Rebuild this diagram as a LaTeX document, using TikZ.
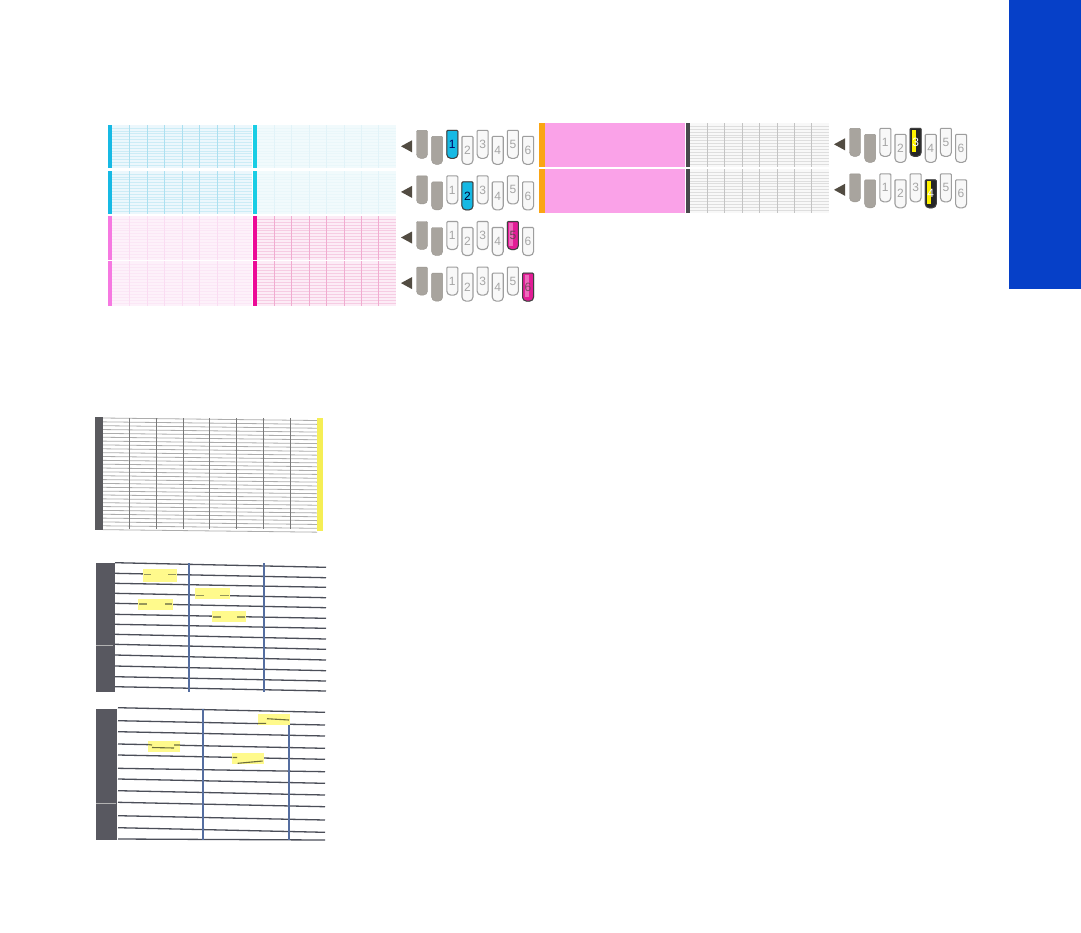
\documentclass[tikz,border=0pt]{standalone}
\usepackage{fontspec}
\setmainfont{Liberation Sans}
\definecolor{sidetab}{RGB}{6,64,200}
\definecolor{tipgray}{RGB}{82,76,66}
\definecolor{headgray}{RGB}{168,164,158}
\definecolor{headedge}{RGB}{158,158,158}
\definecolor{headpale}{RGB}{248,248,248}
\definecolor{numgray}{RGB}{165,165,165}
\definecolor{inkc}{RGB}{22,185,228}
\definecolor{inkcpale}{RGB}{25,205,228}
\definecolor{inkm}{RGB}{226,28,150}
\definecolor{inkmlight}{RGB}{246,120,225}
\definecolor{inkmbar}{RGB}{236,10,150}
\definecolor{inky}{RGB}{245,238,85}
\definecolor{inko}{RGB}{250,165,20}
\definecolor{inkk}{RGB}{72,72,76}
\definecolor{pinkfill}{RGB}{250,162,232}
\definecolor{cbg}{RGB}{236,247,252}
\definecolor{cline}{RGB}{172,224,240}
\definecolor{cbgpale}{RGB}{241,250,252}
\definecolor{clinepale}{RGB}{226,243,248}
\definecolor{mbg}{RGB}{253,241,250}
\definecolor{mline}{RGB}{250,220,242}
\definecolor{mbgdeep}{RGB}{252,236,246}
\definecolor{mlinedeep}{RGB}{240,172,208}
\definecolor{kbg}{RGB}{248,248,248}
\definecolor{kline}{RGB}{196,196,196}
\definecolor{barmid}{RGB}{88,88,96}
\definecolor{hiline}{RGB}{255,250,140}
\definecolor{hidash}{RGB}{150,150,90}
\definecolor{hidark}{RGB}{110,110,60}
\definecolor{rowline}{RGB}{75,78,88}
\definecolor{colline}{RGB}{85,110,160}
\definecolor{fineh}{RGB}{172,172,172}
\definecolor{finev}{RGB}{120,120,120}

% one printhead drawn from its top centre
\newcommand{\nozzle}[3]{%
  \path[#3] ({#1-5.5},#2) [rounded corners=1pt] -- ({#1+5.5},#2)
    [rounded corners=4pt] -- ({#1+5.5},{#2+28}) -- ({#1-5.5},{#2+28})
    [rounded corners=1pt] -- cycle;
}
% arrow tip and eight heads of one row
\newcommand{\nozzlerow}[3]{%
  \fill[tipgray] ({#2-21},{#3+16}) coordinate (tip#1) -- ({#2-10},{#3+10}) -- ({#2-10},{#3+22}) -- cycle;
  \foreach \i in {0,...,7}{
    \pgfmathsetmacro\nx{#2+15.15*\i}
    \pgfmathsetmacro\ny{#3+6*mod(\i,2)}
    \pgfmathtruncatemacro\num{\i-1}
    \ifnum\i<2
      \nozzle{\nx}{\ny}{headoff}
    \else
      \nozzle{\nx}{\ny}{headidle}
      \node[numlab] (n#1-\num) at (\nx,\ny+14) {\num};
    \fi
  }
}
% the head in use: x of first head, y, number, fill, stripe, text
\newcommand{\nozzleon}[6]{%
  \pgfmathsetmacro\nx{#1+15.15*(#3+1)}
  \pgfmathsetmacro\ny{#2+6*mod(#3+1,2)}
  \nozzle{\nx}{\ny}{fill=#4,draw=black!75,line width=1pt}
  \fill[#5] (\nx-3.5,\ny+1.5) rectangle (\nx+0.5,\ny+24);
  \node[numlab,text=#6] (on#3) at (\nx,\ny+14) {#3};
}
% a sheared test block with eight columns
\newcommand{\testblock}[6]{%
  \fill[#5] (#1,#2) rectangle (#3,#4);
  \foreach \k in {1,...,14}
    \draw[#6!50!#5,line width=0.4pt] (#1,{#2+\k*(#4-#2)/15}) -- (#3,{#2+\k*(#4-#2)/15});
  \foreach \k in {1,...,7}
    \draw[#6,line width=0.6pt] ({#1+\k*(#3-#1)/8},#2) -- ({#1+\k*(#3-#1)/8},#4);
}

\begin{document}
\begin{tikzpicture}[
  x=1pt,y=-1pt,
  headoff/.style={fill=headgray,draw=headgray!90!black,line width=0.4pt},
  headidle/.style={fill=headpale,draw=headedge,line width=1.1pt},
  numlab/.style={font=\fontsize{12}{12}\selectfont,text=numgray,inner sep=0pt},
  hibox/.style={fill=hiline},
  hidash/.style={draw=hidash,line width=1.1pt},
  hidarkline/.style={draw=hidark,line width=1.1pt},
  rowln/.style={draw=rowline,line width=1.3pt},
  colln/.style={draw=colline,line width=1.2pt}
]
\useasboundingbox (0,0) rectangle (1081,932);
\fill[white] (0,0) rectangle (1081,932);
\fill[sidetab] (1009,0) rectangle (1081,289);

% cyan and magenta blocks
\testblock{112}{125}{252}{168}{cbg}{cline}
\testblock{257}{125}{396}{168}{cbgpale}{clinepale}
\testblock{112}{171}{252}{214}{cbg}{cline}
\testblock{257}{171}{396}{214}{cbgpale}{clinepale}
\testblock{112}{216}{252}{260}{mbg}{mline}
\testblock{257}{216}{396}{260}{mbgdeep}{mlinedeep}
\testblock{112}{261}{252}{306}{mbg}{mline}
\testblock{257}{261}{396}{306}{mbgdeep}{mlinedeep}
\fill[inkc] (108,125) rectangle (112,168);
\fill[inkcpale] (253,125) rectangle (257,168);
\fill[inkc] (108,171) rectangle (112,214);
\fill[inkcpale] (253,171) rectangle (257,214);
\fill[inkmlight] (108,216) rectangle (112,260);
\fill[inkmbar] (253,216) rectangle (257,260);
\fill[inkmlight] (108,261) rectangle (112,306);
\fill[inkmbar] (253,261) rectangle (257,306);

% yellow and black blocks
\fill[pinkfill] (545,123) rectangle (685,167);
\fill[pinkfill] (545,169) rectangle (685,213);
\fill[inko] (539,123) rectangle (545,167);
\fill[inko] (539,169) rectangle (545,213);
\testblock{690}{123}{829}{167}{kbg}{kline}
\testblock{690}{169}{829}{213}{kbg}{kline}
\fill[inkk] (686,123) rectangle (690,167);
\fill[inkk] (686,169) rectangle (690,213);

% heads beside the blocks
\nozzlerow{a}{422}{130.3}
\nozzleon{422}{130.3}{1}{inkc}{inkc}{black!60!blue}
\nozzlerow{b}{422}{175.9}
\nozzleon{422}{175.9}{2}{inkc}{inkc}{black!80!blue}
\nozzlerow{c}{422}{221.5}
\nozzleon{422}{221.5}{5}{inkm}{inkm!65!white}{black!70!magenta}
\nozzlerow{d}{422}{267.1}
\nozzleon{422}{267.1}{6}{inkm}{inkm!65!white}{black!60!magenta}
\nozzlerow{e}{855}{128.3}
\nozzleon{855}{128.3}{3}{black!85}{yellow}{white}
\nozzlerow{f}{855}{173.8}
\nozzleon{855}{173.8}{4}{black!85}{yellow}{white}

% fine pattern
\foreach \k in {0,...,29}
  \draw[fineh,line width=0.8pt] (103,{418+3.85*\k}) -- (317,{420.5+3.85*\k});
\foreach \cx in {129,156,183,209,236,263,290}
  \draw[finev,line width=0.8pt] (\cx,418) -- (\cx,529);
\fill[inkk!90] (95,417) rectangle (103,530);
\fill[inky] (317,418) rectangle (323,531);

% broken lines, first sample
\foreach \a/\b in {562.7/567.3,573.3/577.7,583.3/587.3,593.3/597.7,603.3/607.7,614.3/618.3,624.3/628.3,634.3/639,644.3/649.3,655/660,666/670.7,676.7/681,686.7/691}
  \draw[rowln] (115,\a) -- (326,\b);
\draw[colln] (189,563) -- (189,692);
\draw[colln] (264,563) -- (264,692);
\fill[barmid] (96,563) rectangle (115,692);
\fill[gray!60] (96,645) rectangle (113,646);
\fill[hibox] (143,569) rectangle (177,582);
\fill[hibox] (195,588) rectangle (230,599);
\fill[hibox] (138,599) rectangle (173,610);
\fill[hibox] (212,611) rectangle (246,622);
\draw[hidash] (144,574.3) -- (151,574.3) (168,574.3) -- (176,574.3);
\draw[hidash] (196,595.3) -- (204,595.3) (220,595.3) -- (229,595.3);
\draw[hidash] (139,604) -- (147,604) (165,604) -- (172,604);
\draw[hidash] (213,617) -- (221,617) (237,617) -- (245,617);

% broken lines, second sample
\foreach \a/\b in {707.7/712.3,720.7/725,731.7/736,744/748.3,755/759.3,768.3/771.7,779/783.3,790.7/795,802.3/806.7,815.7/820,827.7/832.3,839/840}
  \draw[rowln] (118,\a) -- (325,\b);
\draw[colln] (203,709) -- (203,840);
\draw[colln] (289,723) -- (289,840);
\fill[barmid] (96,709) rectangle (117,840);
\fill[gray!60] (96,803) rectangle (116,804);
\fill[hibox] (258,714) rectangle (290,725);
\fill[hibox] (148,741) rectangle (180,752);
\fill[hibox] (232,753) rectangle (264,764);
\draw[hidarkline] (258,723.3) -- (266,723.3) (267,718.7) -- (289,720);
\draw[hidarkline] (148,744.5) -- (152,745) (152,747.5) -- (174,748) (174,745) -- (180,745);
\draw[hidarkline] (232.5,757.5) -- (237,757.5) (237.7,763.3) -- (262.7,761);
\end{tikzpicture}
\end{document}
